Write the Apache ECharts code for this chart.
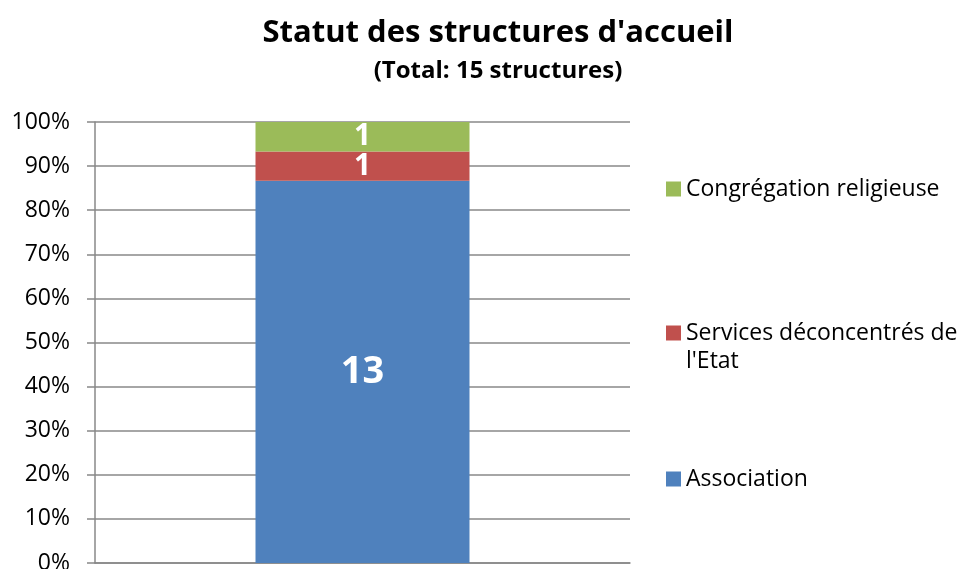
<!DOCTYPE html>
<html>
<head>
<meta charset="utf-8">
<script src="https://cdn.jsdelivr.net/npm/echarts@6/dist/echarts.min.js"></script>
<style>
  html, body { margin: 0; padding: 0; background: #fff; }
  #chart { width: 963px; height: 569px; }
</style>
</head>
<body>
<div id="chart"></div>
<script>
const categories = ['Statut']
const seriesNames = ['Association', 'Services déconcentrés de l\'Etat', 'Congrégation religieuse']
// leading blank line keeps the legend square level with the first text line
const legendLabels = ['Association', ' \nServices déconcentrés de\nl\'Etat', 'Congrégation religieuse']
const seriesCounts = [[13], [1], [1]]
const seriesColors = ['#4F81BD', '#C0504D', '#9BBB59']
const labelSizes = [38, 30, 30]
const yTicks = [0, 10, 20, 30, 40, 50, 60, 70, 80, 90, 100]

const totals = categories.map((_, i) => seriesCounts.reduce((acc, s) => acc + s[i], 0))

const font = '"Open Sans", sans-serif'

const series = seriesNames.map((name, k) => ({
  type: 'bar',
  name,
  stack: 'total',
  barWidth: '40%',
  itemStyle: { color: seriesColors[k] },
  label: {
    show: true,
    position: 'inside',
    color: '#fff',
    fontFamily: font,
    fontWeight: 'bold',
    fontSize: labelSizes[k],
    formatter: p => seriesCounts[k][p.dataIndex]
  },
  data: seriesCounts[k].map((v, i) => v / totals[i] * 100)
}))

const legendItem = (k, top) => ({
  orient: 'vertical',
  left: 666,
  top,
  padding: 0,
  itemWidth: 15,
  itemHeight: 15,
  itemGap: 6,
  icon: 'rect',
  selectedMode: false,
  data: [seriesNames[k]],
  formatter: () => legendLabels[k],
  textStyle: {
    fontFamily: font,
    fontSize: 23,
    color: '#000',
    lineHeight: 28
  }
})

const option = {
  animation: false,
  title: {
    text: 'Statut des structures d\'accueil',
    subtext: '(Total: 15 structures)',
    left: 493,
    textAlign: 'center',
    top: 13,
    itemGap: 10,
    textStyle: { fontFamily: font, fontWeight: 'bold', fontSize: 31, color: '#000' },
    subtextStyle: { fontFamily: font, fontWeight: 'bold', fontSize: 24, color: '#000' }
  },
  legend: [
    legendItem(2, 175),
    legendItem(1, 291),
    legendItem(0, 465)
  ],
  grid: { left: 95, right: 333, top: 122, bottom: 6, containLabel: false, outerBoundsMode: 'none' },
  xAxis: {
    type: 'category',
    data: categories,
    axisLine: { show: true, lineStyle: { color: '#888', width: 1.5 } },
    axisTick: { show: false },
    axisLabel: { show: false }
  },
  yAxis: {
    type: 'value',
    min: yTicks[0],
    max: yTicks[yTicks.length - 1],
    interval: 10,
    axisLine: { show: true, lineStyle: { color: '#888', width: 1.5 } },
    axisTick: { show: true, length: 8, lineStyle: { color: '#888', width: 1.5 } },
    axisLabel: {
      margin: 25,
      fontFamily: font,
      fontSize: 23,
      color: '#000',
      formatter: v => v + '%'
    },
    splitLine: { show: true, lineStyle: { color: '#888', width: 1.5 } }
  },
  series
}

const chart = echarts.init(document.getElementById('chart'))
chart.setOption(option)
</script>
</body>
</html>
